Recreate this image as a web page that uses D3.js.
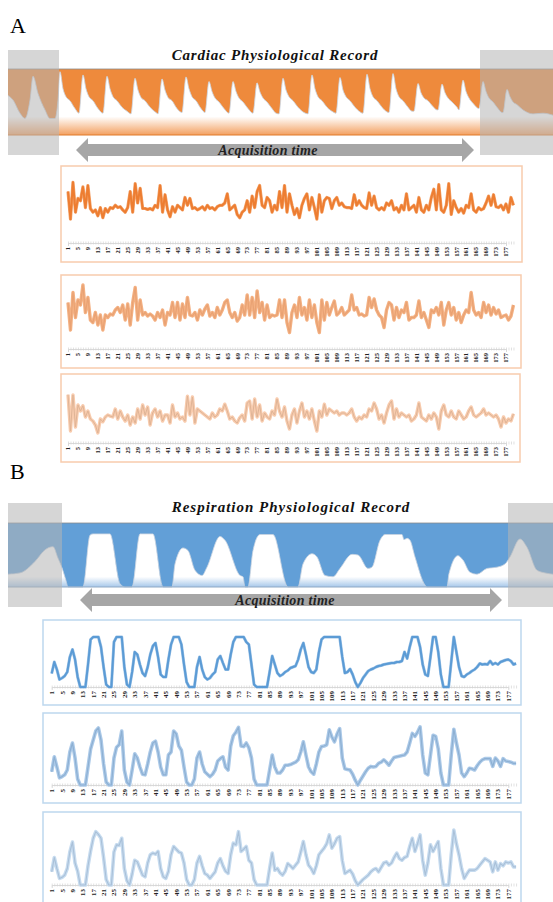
<!DOCTYPE html>
<html>
<head>
<meta charset="utf-8">
<script src="https://cdnjs.cloudflare.com/ajax/libs/d3/7.8.5/d3.min.js"></script>
<style>
body { margin: 0; background: #fff; }
svg { display: block; }
</style>
</head>
<body>
<div id="figure"></div>
<script>
"use strict";

// ---- data ----
var tickLabels = [1,5,9,13,17,21,25,29,33,37,41,45,49,53,57,61,65,69,73,77,81,85,89,93,97,
    101,105,109,113,117,121,125,129,133,137,141,145,149,153,157,161,165,169,173,177];

var cardiacA = [75,15,95,30,60,55,85,40,88,38, 30,35,22,40,18,38,30,40,38,45,
    40,42,35,30,40,75,30,92,50,82, 38,38,36,38,35,45,40,88,30,68,
    35,20,42,30,45,40,35,62,45,60, 38,40,35,38,42,35,45,38,40,35,
    42,45,45,50,70,35,40,45,25,18, 30,35,55,30,65,40,75,88,45,40,
    62,55,30,45,35,75,40,88,30,70, 45,25,38,18,45,60,70,35,62,40,
    15,68,30,55,62,60,38,55,62,45, 50,42,40,40,38,68,45,55,45,40,
    38,72,45,65,40,35,40,35,50,45, 55,35,40,30,45,35,70,35,40,45,
    30,62,35,30,45,35,62,80,35,90, 35,30,45,92,25,55,40,30,38,28,
    45,40,70,35,30,40,35,38,50,65, 45,68,42,40,45,35,48,30,62,45];

var cardiacB = [65,10,85,35,70,60,100,45,75,30, 25,45,20,40,10,40,35,42,40,50,
    55,45,60,30,62,20,65,95,30,70, 40,45,38,42,38,30,45,35,50,20,
    45,40,65,35,65,30,62,35,75,40, 38,45,30,50,40,52,60,38,45,35,
    55,40,50,65,70,45,35,45,28,35, 60,40,80,40,75,35,88,45,65,30,
    60,35,40,38,40,70,35,70,25,5, 45,60,35,75,40,55,30,70,35,60,
    25,5,70,30,65,40,55,68,40,45, 55,40,45,50,80,50,55,40,42,38,
    40,75,55,72,50,40,35,15,50,65, 60,30,55,35,50,45,65,30,35,35,
    40,68,35,45,30,15,50,45,55,40, 65,20,50,65,40,55,30,45,25,40,
    50,45,85,50,40,45,35,65,45,60, 40,55,42,50,35,38,40,30,38,60];

var cardiacC = [96,5,95,15,70,55,68,40,55,35, 30,20,0,35,28,40,45,42,40,60,
    35,55,40,30,45,20,40,25,60,35, 70,45,65,20,50,60,40,55,30,45,
    45,25,70,40,50,35,40,30,92,45, 90,25,60,55,50,45,40,35,50,40,
    45,60,55,72,55,35,40,30,25,38, 45,30,75,80,35,85,40,70,30,50,
    40,35,55,45,85,55,40,65,30,10, 45,60,25,55,75,40,55,35,60,30,
    5,55,40,72,45,60,55,50,55,45, 50,50,45,50,60,40,30,40,35,45,
    40,60,55,75,60,35,45,25,50,70, 80,35,60,40,50,45,40,45,30,35,
    45,75,40,35,30,45,35,50,40,10, 55,70,45,40,55,40,35,55,45,35,
    40,55,65,45,40,45,50,60,45,50, 45,40,45,35,15,40,25,35,30,48];

var respA = [27,50,35,15,18,22,30,60,75,55, 20,0,0,0,45,95,100,100,100,80,
    40,5,0,0,90,100,100,100,40,5, 0,30,70,65,45,28,22,40,65,82,
    88,60,25,20,20,55,85,100,100,100, 85,45,10,0,0,0,40,60,35,20,
    15,18,25,30,55,62,48,35,35,65, 90,100,100,100,100,90,85,45,5,0,
    0,0,0,0,30,62,45,28,22,25, 30,33,38,40,42,55,75,88,65,40,
    30,28,35,70,95,100,100,100,100,100, 100,100,60,28,30,36,25,10,0,8,
    18,25,32,35,37,40,42,43,45,46, 47,48,48,50,50,52,70,57,80,100,
    100,100,80,45,25,22,60,100,100,70, 25,0,0,0,50,100,70,40,22,20,
    25,28,32,35,40,47,45,46,45,52, 45,48,45,50,52,54,55,52,45,47];

var respB = [22,47,30,12,14,17,25,55,70,45, 10,0,0,0,30,60,75,90,95,75,
    35,5,0,0,45,63,67,90,25,5, 0,25,52,45,30,18,17,35,55,70,
    73,55,30,17,17,50,55,90,85,65, 58,30,5,0,0,10,45,55,35,22,
    18,14,18,25,40,44,47,30,25,65, 82,88,96,65,64,70,62,45,10,0,
    0,0,0,0,25,50,30,20,20,25, 33,33,34,36,38,42,55,72,50,30,
    22,18,35,55,64,65,67,92,80,72, 85,94,45,27,26,25,18,8,0,8,
    15,22,28,31,30,31,36,38,42,38, 33,40,46,47,48,49,50,55,70,86,
    81,88,97,50,20,17,50,83,81,60, 20,0,0,0,50,93,70,50,20,14,
    20,28,27,25,32,38,42,44,44,44, 31,45,40,31,44,40,39,38,36,36];

var respC = [24,50,30,12,14,18,30,60,78,40, 25,0,0,0,35,62,85,97,92,85,
    50,10,0,0,60,73,72,85,30,8, 0,20,45,42,30,18,15,40,55,58,
    56,61,30,15,12,25,55,70,65,60, 58,40,10,0,0,10,40,52,35,21,
    18,12,18,24,40,48,35,25,21,55, 76,73,97,61,65,70,45,40,10,0,
    0,0,0,0,30,58,27,30,22,18, 25,39,35,30,36,42,60,79,55,36,
    30,21,35,55,61,67,75,91,67,75, 85,88,45,21,24,27,20,8,0,5,
    10,14,18,24,28,30,24,32,40,42, 36,40,50,58,48,45,50,52,70,85,
    61,75,91,45,18,40,73,61,70,79, 30,0,0,0,55,100,75,55,30,12,
    20,27,27,27,30,36,42,48,45,42, 24,42,27,39,35,42,40,42,33,33];

// header waveforms: [sample, level] (0 = band bottom, 1 = band top)
var cardiacWave = [[0,.60],[5,.53],[12,.33],[17,.25],[22,.53],[25,.89],[30,.63],[37,.38],[42,.25],[47,.25],[50,.53],
    [52,.96],[55,.70],[58,.58],[62,.52],[67,.40],
    [71,.33],[75,.91],[78,.70],[81,.58],[85,.52],[90,.40],
    [95,.33],[99,.89],[102,.70],[105,.58],[109,.52],[114,.42],[119,.36],
    [123,.32],[127,.86],[130,.68],[133,.57],[137,.52],[142,.42],[148,.34],
    [150,.32],[154,.85],[157,.68],[160,.57],[164,.52],[169,.40],
    [174,.34],[178,.88],[181,.70],[184,.58],[188,.52],[193,.40],
    [197,.34],[201,.81],[204,.66],[207,.56],[211,.50],[216,.40],
    [221,.33],[225,.81],[228,.66],[231,.56],[235,.50],[240,.40],
    [245,.33],[249,.79],[252,.65],[255,.56],[259,.50],[264,.40],[268,.33],
    [271,.32],[275,.86],[278,.68],[281,.58],[285,.52],[290,.42],[296,.34],
    [300,.32],[304,.91],[307,.70],[310,.58],[314,.52],[319,.42],[325,.35],
    [328,.33],[332,.87],[335,.68],[338,.58],[342,.52],[347,.42],[352,.35],
    [355,.33],[359,.92],[362,.70],[365,.58],[369,.52],[374,.42],[379,.35],
    [381,.34],[385,.93],[388,.70],[391,.58],[395,.52],[400,.42],[404,.36],
    [406,.36],[410,.78],[413,.64],[416,.56],[420,.52],[425,.43],[429,.38],
    [430,.38],[434,.77],[437,.64],[440,.56],[444,.50],[449,.42],
    [451,.38],[455,.83],[458,.66],[461,.56],[465,.48],
    [471,.40],[475,.81],[478,.66],[481,.56],[485,.50],[490,.40],[494,.34],
    [495,.34],[499,.69],[502,.58],[505,.50],[509,.46],[515,.38],[525,.32],[535,.33],[545,.30]];

var respWave = [[0,.20],[12,.22],[27,.40],[37,.58],[45,.63],[50,.45],[54,.30],[58,.10],[60,0],
    [75,0],[82,.81],[85,.83],[102,.83],[112,.05],[117,0],[124,0],[132,.83],[145,.83],[155,0],
    [164,0],[167,.36],[175,.61],[180,.57],[187,.26],[194,.18],[199,.31],[212,.79],[217,.73],
    [232,.18],[235,.16],[237,0],[240,0],[245,.57],[252,.82],[265,.82],[280,0],[290,0],
    [295,.36],[304,.52],[309,.47],[317,.18],[325,.16],[332,.29],[344,.51],[350,.50],[360,.29],
    [364,.31],[372,.73],[377,.82],[394,.82],[396,.74],[399,.76],[402,.73],[407,.47],[417,.03],
    [419,0],[439,0],[441,.21],[450,.49],[455,.42],[462,.23],[469,.20],[479,.29],[489,.31],
    [497,.36],[502,.47],[512,.75],[519,.62],[529,.26],[537,.22],[545,.20]];

// ---- drawing ----
var W = 553, H = 902;
var svg = d3.select("#figure").append("svg").attr("width", W).attr("height", H);
var defs = svg.append("defs");

var SERIF = "'Liberation Serif', 'DejaVu Serif', serif";

function arrowPath(x0, x1, yc, shaftH, headH, headL) {
    var p = d3.path();
    p.moveTo(x0, yc);
    p.lineTo(x0 + headL, yc - headH / 2);
    p.lineTo(x0 + headL, yc - shaftH / 2);
    p.lineTo(x1 - headL, yc - shaftH / 2);
    p.lineTo(x1 - headL, yc - headH / 2);
    p.lineTo(x1, yc);
    p.lineTo(x1 - headL, yc + headH / 2);
    p.lineTo(x1 - headL, yc + shaftH / 2);
    p.lineTo(x0 + headL, yc + shaftH / 2);
    p.lineTo(x0 + headL, yc + headH / 2);
    p.closePath();
    return p.toString();
}

function drawHeader(cfg) {
    var x = d3.scaleLinear().domain([0, 545]).range([8, 553]);
    var y = d3.scaleLinear().domain([0, 1]).range([cfg.bandBottom, cfg.bandTop]);

    var grad = defs.append("linearGradient")
        .attr("id", cfg.id + "_fade")
        .attr("gradientUnits", "userSpaceOnUse")
        .attr("x1", 0).attr("x2", 0)
        .attr("y1", cfg.bandTop).attr("y2", cfg.bandBottom);
    grad.append("stop").attr("offset", "0%").attr("stop-color", "#ffffff");
    grad.append("stop").attr("offset", cfg.fadeStart).attr("stop-color", "#ffffff");
    grad.append("stop").attr("offset", "100%").attr("stop-color", cfg.fade);

    svg.append("text")
        .attr("x", 10).attr("y", cfg.letterY)
        .style("font-family", SERIF).style("font-size", "22px")
        .text(cfg.letter);

    svg.append("text")
        .attr("x", cfg.titleX).attr("y", cfg.titleY)
        .attr("text-anchor", "middle")
        .style("font-family", SERIF).style("font-size", "15px")
        .style("font-weight", "bold").style("font-style", "italic")
        .style("letter-spacing", cfg.titleSpacing)
        .style("fill", "#111")
        .text(cfg.title);

    svg.append("rect")
        .attr("x", 8).attr("y", cfg.bandTop)
        .attr("width", W - 8).attr("height", cfg.bandBottom - cfg.bandTop)
        .attr("fill", cfg.color);

    var area = d3.area()
        .x(function(d) { return x(d[0]); })
        .y0(cfg.bandBottom)
        .y1(function(d) { return y(d[1]); })
        .curve(d3.curveMonotoneX);

    svg.append("path")
        .datum(cfg.wave)
        .attr("d", area)
        .attr("fill", "url(#" + cfg.id + "_fade)");

    svg.append("path")
        .datum(cfg.wave)
        .attr("d", area.lineY1())
        .attr("fill", "none")
        .attr("stroke", "#c9d3e0")
        .attr("stroke-width", 0.8);

    svg.append("line")
        .attr("x1", 8).attr("x2", W)
        .attr("y1", cfg.bandTop).attr("y2", cfg.bandTop)
        .attr("stroke", "#8a8a8a").attr("stroke-width", 0.8);
    svg.append("line")
        .attr("x1", 8).attr("x2", W)
        .attr("y1", cfg.bandBottom).attr("y2", cfg.bandBottom)
        .attr("stroke", cfg.edge).attr("stroke-width", 1);

    cfg.grayBoxes.forEach(function(b) {
        svg.append("rect")
            .attr("x", b[0]).attr("y", cfg.grayTop)
            .attr("width", b[1] - b[0]).attr("height", cfg.grayBottom - cfg.grayTop)
            .attr("fill", "#b4b4b4").attr("fill-opacity", 0.55);
    });

    svg.append("path")
        .attr("d", arrowPath(cfg.arrow[0], cfg.arrow[1], cfg.arrowY, 12, 24, 12))
        .attr("fill", "#a6a6a6");

    svg.append("text")
        .attr("x", cfg.arrowLabelX).attr("y", cfg.arrowY + 5)
        .attr("text-anchor", "middle")
        .style("font-family", SERIF).style("font-size", "14px")
        .style("font-weight", "bold").style("font-style", "italic")
        .style("letter-spacing", "0.3px")
        .style("fill", "#222")
        .text("Acquisition time");
}

function drawChart(cfg) {
    var g = svg.append("g");
    var idx = cfg.values.map(function(v, i) { return i + 1; });

    g.append("rect")
        .attr("x", cfg.box[0]).attr("y", cfg.box[1])
        .attr("width", cfg.box[2] - cfg.box[0]).attr("height", cfg.box[3] - cfg.box[1])
        .attr("fill", "#fff")
        .attr("stroke", cfg.border).attr("stroke-width", 1.5);

    var x = d3.scaleLinear().domain([1, 177]).range(cfg.xRange);
    var y = d3.scaleLinear().domain([0, 100]).range(cfg.yRange);

    // category axis with a tick for every sample
    var axis = d3.axisBottom(x)
        .tickValues(idx)
        .tickSize(3)
        .tickFormat("");
    var gAxis = g.append("g")
        .attr("transform", "translate(0," + cfg.axisY + ")")
        .call(axis);
    gAxis.select(".domain").attr("stroke", "#dadada");
    gAxis.selectAll(".tick line").attr("stroke", "#d4d4d4").attr("stroke-width", 0.7)
        .attr("y1", -1.5).attr("y2", 1.5);

    g.selectAll("text.lab")
        .data(tickLabels)
        .enter().append("text")
        .attr("class", "lab")
        .attr("transform", function(d) {
            return "translate(" + (x(d) + cfg.labelSize * 0.35) + "," + cfg.labelY + ") rotate(-90)";
        })
        .attr("text-anchor", "end")
        .style("font-family", SERIF)
        .style("font-size", cfg.labelSize + "px")
        .style("font-weight", "bold")
        .style("fill", "#222")
        .text(function(d) { return d; });

    var line = d3.line()
        .x(function(d, i) { return x(i + 1); })
        .y(function(d) { return y(d); });

    cfg.strokes.forEach(function(s) {
        g.append("path")
            .datum(cfg.values)
            .attr("d", line)
            .attr("fill", "none")
            .attr("stroke", s[0])
            .attr("stroke-width", s[1])
            .attr("stroke-linejoin", "round");
    });
}

drawHeader({
    id: "card", letter: "A", letterY: 33,
    title: "Cardiac Physiological Record", titleX: 275, titleY: 60, titleSpacing: "0.8px",
    bandTop: 69, bandBottom: 135, color: "#ee8a3c", fade: "#f3a060", fadeStart: "72%", edge: "#e07a2a",
    wave: cardiacWave,
    grayTop: 50, grayBottom: 155, grayBoxes: [[8, 59], [480, 553]],
    arrow: [76, 474], arrowY: 150, arrowLabelX: 268
});

drawHeader({
    id: "resp", letter: "B", letterY: 479,
    title: "Respiration Physiological Record", titleX: 291, titleY: 512, titleSpacing: "1px",
    bandTop: 523, bandBottom: 587, color: "#629fd7", fade: "#a7c8ea", fadeStart: "84%", edge: "#8fa9c4",
    wave: respWave,
    grayTop: 503, grayBottom: 607, grayBoxes: [[8, 62], [508, 553]],
    arrow: [80, 502], arrowY: 600, arrowLabelX: 285
});

drawChart({ values: cardiacA, box: [61, 166, 522, 262], xRange: [68, 506], yRange: [226, 180],
    axisY: 243, labelY: 247, labelSize: 6.5, border: "#f8cbad",
    strokes: [["#f3a46c", 3.2], ["#ed7d31", 2]] });
drawChart({ values: cardiacB, box: [61, 275, 521, 368], xRange: [68, 506], yRange: [335, 285],
    axisY: 349, labelY: 353, labelSize: 6.5, border: "#f8cbad",
    strokes: [["#f4b183", 3.4], ["#e9a273", 1.2]] });
drawChart({ values: cardiacC, box: [61, 374, 520, 462], xRange: [68, 506], yRange: [433, 393],
    axisY: 443, labelY: 447, labelSize: 6.5, border: "#f8cbad",
    strokes: [["#f8cbad", 3.4], ["#dfb496", 1]] });

drawChart({ values: respA, box: [43, 620, 521, 705], xRange: [51.7, 508.3], yRange: [687, 637],
    axisY: 687, labelY: 691, labelSize: 7, border: "#bdd7ee",
    strokes: [["#9cc2e6", 3], ["#5b9bd5", 2]] });
drawChart({ values: respB, box: [43, 713, 521, 803], xRange: [51.7, 508.3], yRange: [785, 725],
    axisY: 785, labelY: 789, labelSize: 7, border: "#bdd7ee",
    strokes: [["#abc9e8", 3.6], ["#8db0d3", 1.2]] });
drawChart({ values: respC, box: [43, 812, 521, 910], xRange: [51.7, 508.3], yRange: [885, 830],
    axisY: 885, labelY: 889, labelSize: 7, border: "#bdd7ee",
    strokes: [["#c6dbef", 3.6], ["#a9c0d8", 1.1]] });
</script>
</body>
</html>
